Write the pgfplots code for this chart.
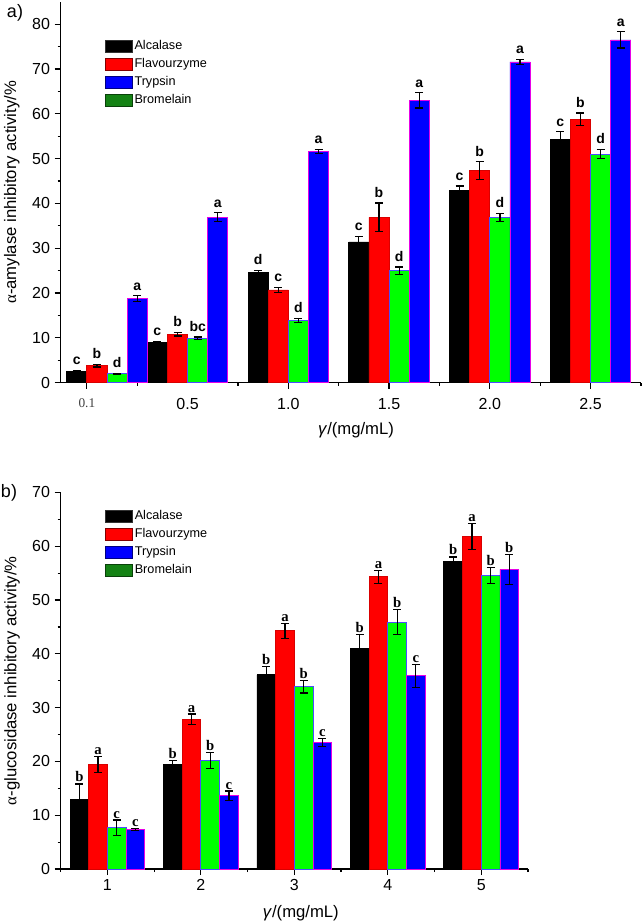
\documentclass[border=0pt]{standalone}
\usepackage{fontspec}
\setmainfont{Liberation Sans}
\newfontfamily\serifff{Liberation Serif}
\usepackage{pgfplots}
\usepackage{pgfplotstable}
\pgfplotsset{compat=1.18}
\definecolor{bargreen}{RGB}{0,255,0}
\definecolor{leggreen}{RGB}{20,130,20}
\definecolor{edgemag}{RGB}{230,0,230}

\pgfplotstableread{
x A Ae F Fe B Be T Te la lf lb lt
0.1 2.6 0.2 3.8 0.3 2.0 0.1 18.8 0.6 c b d a
0.5 9.0 0.2 10.8 0.4 9.9 0.3 36.9 1.0 c b bc a
1.0 24.6 0.4 20.7 0.6 13.9 0.4 51.6 0.5 d c d a
1.5 31.4 1.2 36.9 3.2 25.0 0.8 63.0 1.7 c b d a
2.0 43.0 0.9 47.3 2.0 36.9 0.9 71.6 0.6 c b d a
2.5 54.2 1.8 58.8 1.4 51.0 1.0 76.5 1.8 c b d a
}\topdata

\pgfplotstableread{
x A Ae F Fe B Be T Te la lf lb lt
1 13.0 2.8 19.4 1.5 7.7 1.4 7.3 0.2 b a c c
2 19.4 0.7 27.8 1.0 20.2 1.5 13.6 0.9 b a b c
3 36.1 1.6 44.3 1.4 33.9 1.2 23.5 0.8 b a b c
4 41.0 2.6 54.3 1.2 45.9 2.3 35.9 2.1 b a b c
5 57.1 0.9 61.8 2.4 54.6 1.5 55.7 2.8 b a b b
}\botdata

\pgfplotsset{
  common/.style={
    scale only axis, clip=false, enlargelimits=false, ybar,
    axis lines*=left, axis line style={-, line width=0.9pt},
    tick align=outside, tick style={black, line width=0.9pt},
    major tick length=4.5pt, minor tick length=2.3pt,
    minor y tick num=1,
    /pgf/number format/assume math mode=true,
    ticklabel style={font=\fontsize{12}{14}\selectfont},
    label style={font=\fontsize{12.5}{15}\selectfont},
    legend image code/.code={\draw[#1, line width=0.6pt] (0pt,-4.5pt) rectangle (20pt,4.5pt);},
    legend style={draw=none, fill=none, inner sep=0pt, anchor=north west,
      font=\fontsize{9.5}{11}\selectfont, row sep=1.5pt,
      nodes={inner sep=1.5pt, text height=7pt, text depth=2pt}},
    legend cell align=left,
  },
  eb/.style={error bars/.cd, y dir=both, y explicit,
    error bar style={line width=0.9pt, black},
    error mark options={rotate=90, black, line width=0.9pt, mark size=3pt}},
  lett/.style={bar width=0.5pt, bar shift=0pt, draw=none, fill=none, forget plot, nodes near coords, point meta=explicit symbolic},
}

\begin{document}
\begin{tikzpicture}
\useasboundingbox (0,0) rectangle (482.25pt,-693pt);
\node[font=\fontsize{13.5}{15}\selectfont] at (11.25pt,-9.75pt) {a)};
\node[font=\fontsize{13.5}{15}\selectfont] at (6.75pt,-369.75pt) {b)};

% ---------- a) ----------  1 unit = 151.1pt
\begin{axis}[common,
  at={(45.5pt,-287pt)}, anchor=south west,
  width=435.2pt, height=285.6pt,
  bar width=15.1pt,
  xmin=-0.13, xmax=2.75, ymin=0, ymax=85,
  xtick={0,1.0,1.5,2.0,2.5},
  xticklabels={{\serifff\fontsize{10}{12}\selectfont\color{black!75}0.1},1.0,1.5,2.0,2.5},
  minor xtick={0.25,0.75,1.25,1.75,2.25,2.75},
  extra x ticks={0.5},
  extra x tick labels={0.5},
  extra x tick style={major tick length=4.5pt, tick style={draw=none}},
  xticklabel style={yshift=-4pt},
  ytick={0,10,...,80},
  ylabel={{\serifff α}-amylase inhibitory activity/\%},
  ylabel style={at={(axis description cs:-0.084,0.5)}, anchor=center},
  xlabel={\textit{γ}/(mg/mL)},
  xlabel style={at={(axis description cs:0.509,-0.124)}, anchor=center},
  legend style={at={(axis description cs:0.076,0.905)}},
  ]
\addplot[bar shift=-22.67pt, fill=black, draw=black, line width=0.6pt, forget plot, eb] table[x=x, y=A, y error=Ae]{\topdata};
\addplot[bar shift=-7.56pt, fill=red, draw=red!85!black, line width=0.6pt, forget plot, eb] table[x=x, y=F, y error=Fe]{\topdata};
\addplot[bar shift=7.56pt, fill=bargreen, draw=blue!70, line width=0.6pt, forget plot, eb] table[x=x, y=B, y error=Be]{\topdata};
\addplot[bar shift=22.67pt, fill=blue, draw=edgemag, line width=0.6pt, forget plot, eb] table[x=x, y=T, y error=Te]{\topdata};
% letters
\pgfplotsset{every node near coord/.style={font=\fontsize{10.5}{12}\selectfont\bfseries, inner sep=4pt, black}}
\addplot[lett] table[x expr=\thisrow{x}-0.15, y expr=\thisrow{A}+\thisrow{Ae}, meta=la]{\topdata};
\addplot[lett] table[x expr=\thisrow{x}-0.05, y expr=\thisrow{F}+\thisrow{Fe}, meta=lf]{\topdata};
\addplot[lett] table[x expr=\thisrow{x}+0.05, y expr=\thisrow{B}+\thisrow{Be}, meta=lb]{\topdata};
\addplot[lett] table[x expr=\thisrow{x}+0.15, y expr=\thisrow{T}+\thisrow{Te}, meta=lt]{\topdata};
\addlegendimage{fill=black, draw=black!80}\addlegendentry{Alcalase}
\addlegendimage{fill=red, draw=red!50!black}\addlegendentry{Flavourzyme}
\addlegendimage{fill=blue, draw=blue!50!black}\addlegendentry{Trypsin}
\addlegendimage{fill=leggreen, draw=leggreen!50!black}\addlegendentry{Bromelain}
\end{axis}

% ---------- b) ----------  1 unit = 70.1pt
\begin{axis}[common,
  at={(45.5pt,-651.75pt)}, anchor=south west,
  width=350.5pt, height=282.45pt,
  bar width=14.02pt,
  xmin=0.5, xmax=5.5, ymin=0, ymax=70,
  xtick={1,2,3,4,5},
  minor xtick={0.5,1.5,2.5,3.5,4.5,5.5},
  ytick={0,10,...,70},
  ylabel={{\serifff α}-glucosidase inhibitory activity/\%},
  ylabel style={at={(axis description cs:-0.104,0.5)}, anchor=center},
  xlabel={\textit{γ}/(mg/mL)},
  xlabel style={at={(axis description cs:0.514,-0.117)}, anchor=center},
  legend style={at={(axis description cs:0.095,0.959)}},
  ]
\addplot[bar shift=-21.03pt, fill=black, draw=black, line width=0.6pt, forget plot, eb] table[x=x, y=A, y error=Ae]{\botdata};
\addplot[bar shift=-7.01pt, fill=red, draw=red!85!black, line width=0.6pt, forget plot, eb] table[x=x, y=F, y error=Fe]{\botdata};
\addplot[bar shift=7.01pt, fill=bargreen, draw=blue!70, line width=0.6pt, forget plot, eb] table[x=x, y=B, y error=Be]{\botdata};
\addplot[bar shift=21.03pt, fill=blue, draw=edgemag, line width=0.6pt, forget plot, eb] table[x=x, y=T, y error=Te]{\botdata};
\pgfplotsset{every node near coord/.style={font=\serifff\fontsize{11}{12}\selectfont\bfseries, inner sep=1.2pt, black}}
\addplot[lett] table[x expr=\thisrow{x}-0.3, y expr=\thisrow{A}+\thisrow{Ae}, meta=la]{\botdata};
\addplot[lett] table[x expr=\thisrow{x}-0.1, y expr=\thisrow{F}+\thisrow{Fe}, meta=lf]{\botdata};
\addplot[lett] table[x expr=\thisrow{x}+0.1, y expr=\thisrow{B}+\thisrow{Be}, meta=lb]{\botdata};
\addplot[lett] table[x expr=\thisrow{x}+0.3, y expr=\thisrow{T}+\thisrow{Te}, meta=lt]{\botdata};
\addlegendimage{fill=black, draw=black!80}\addlegendentry{Alcalase}
\addlegendimage{fill=red, draw=red!50!black}\addlegendentry{Flavourzyme}
\addlegendimage{fill=blue, draw=blue!50!black}\addlegendentry{Trypsin}
\addlegendimage{fill=leggreen, draw=leggreen!50!black}\addlegendentry{Bromelain}
\end{axis}
\end{tikzpicture}
\end{document}
